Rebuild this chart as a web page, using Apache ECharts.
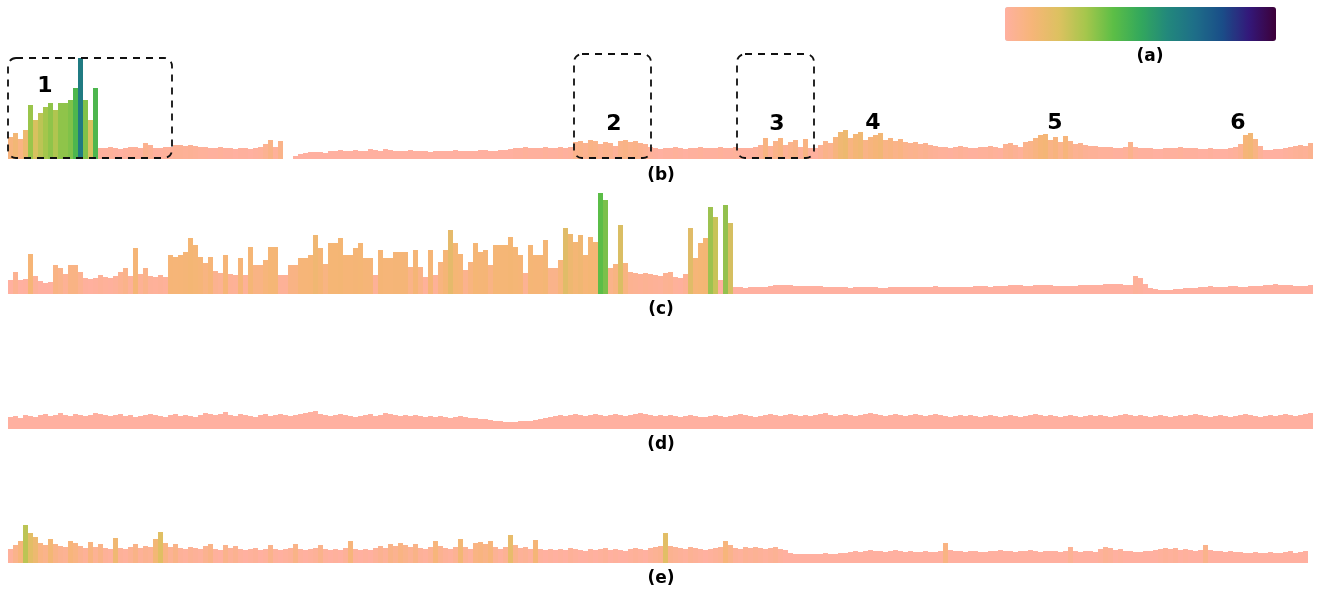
<!DOCTYPE html>
<html>
<head>
<meta charset="utf-8">
<title>Strips</title>
<script src="https://cdn.jsdelivr.net/npm/echarts@6.0.0/dist/echarts.min.js"></script>
<style>
  html, body { margin: 0; padding: 0; background: #fff; }
  #chart { width: 1318px; height: 591px; }
</style>
</head>
<body>
<div id="chart"></div>
<script>
// heights, one value per column
const bValues = [
  22, 26, 20, 29, 54, 39, 46, 52, 56, 49, 56, 56, 59, 71, 101, 59, 39, 71, 11,
  11, 12, 11, 10, 11, 12, 12, 11, 16, 14, 11, 11, 12, 12, 14, 14, 13, 14,
  13, 12, 12, 11, 11, 12, 11, 11, 10, 11, 11, 10, 11, 12, 15, 19, 12, 18,
  0, 0, 3, 5, 6, 7, 7, 7, 6,
  8, 8, 9, 8, 8, 9, 8, 8, 10, 9, 8, 10, 9, 8, 8, 8, 9, 8, 8, 8,
  7, 8, 8, 8, 8, 9, 8, 8, 8, 8, 9, 9, 8, 8, 9, 9, 10,
  11, 11, 12, 11, 11, 11, 12, 11, 11, 12, 11, 12,
  17, 18, 16, 19, 18, 15, 17, 16, 13, 18, 19, 17, 18, 16, 15, 12,
  11, 10, 11, 11, 12, 11, 10, 11, 11, 12, 11, 11, 11, 12, 11, 11, 12,
  11, 11, 11, 12, 14, 21, 13, 18, 21, 14, 17, 19, 12, 20, 11, 11,
  14, 18, 16, 22, 27, 29, 21, 25, 27, 19, 22, 24, 26, 19, 21, 18, 20, 17, 16, 17, 15, 16, 14, 13,
  12, 12, 11, 12, 13, 12, 11, 11, 12, 12, 13, 12, 11, 15, 16, 14, 12, 17, 18, 21,
  24, 25, 19, 22, 17, 23, 18, 15, 16, 14,
  13, 13, 12, 12, 12, 11, 11, 12, 17, 12,
  11, 11, 11, 10, 10, 11, 11, 11, 12, 11, 11, 11, 10, 10, 11, 10, 10, 10, 11, 12,
  15, 24, 26, 20, 13, 9, 9, 10, 10, 11, 12, 13, 14, 13, 16
];

const cValues = [
  14, 22, 14, 15, 40, 18, 13, 11, 12, 29, 26, 20, 29, 29, 22, 16, 15, 16, 19, 17, 16, 18, 22, 26, 18,
  46, 20, 26, 18, 17, 19, 17, 39, 37, 39, 42, 56, 49, 37, 31, 37, 23, 21, 39, 20, 19, 36, 19, 47, 29,
  29, 34, 47, 47, 19, 19, 29, 29, 36, 36, 39, 59, 46, 30, 51, 51, 56, 39, 39, 46, 51, 36, 36, 19, 44,
  36, 36, 42, 42, 42, 27, 44, 27, 17, 44, 19, 32, 44, 64, 51, 40, 24, 32, 51, 42, 44, 29, 49, 49, 49,
  57, 47, 39, 21, 49, 39, 39, 54, 26, 26, 34, 66, 60, 52, 59, 39, 57, 52, 101, 94, 26, 30, 69, 31, 22,
  21, 20, 21, 20, 19, 18, 21, 22, 17, 16,
  20, 66, 36, 51, 56, 87, 77, 14, 89, 71,
  7, 7, 6, 7, 7, 7, 7,
  8, 9, 9, 9, 9, 8, 8, 8, 8, 8, 8, 7,
  7, 7, 7, 7, 6, 7, 7, 7, 7, 7, 6, 6, 7, 7, 7, 7, 7, 7, 7, 7, 7, 8, 7, 7, 7, 7, 7, 7, 7, 8, 8, 8,
  7, 8, 8, 8, 9, 9, 9, 8, 8, 9, 9, 9, 9, 8, 8, 8, 8, 8, 9, 9, 9, 9, 9, 10, 10, 10, 10, 9, 9,
  18, 16, 10, 6, 5, 4, 4, 4, 5,
  5, 6, 6, 6, 7, 7, 8, 7, 7, 7, 8, 8, 7, 7, 8, 8, 8, 9, 9, 10, 9, 9, 9, 8, 8, 8, 9
];

const dValues = [
  12, 13, 11, 14, 13, 12, 14, 15, 13, 14, 16, 14, 13, 15, 14, 13, 14, 16, 15, 14, 13,
  14, 15, 13, 14, 12, 13, 14, 15, 14, 13, 12, 14, 15, 13, 14, 13, 12, 14, 16, 15,
  14, 15, 17, 14, 13, 15, 14, 13, 12, 14, 15, 13, 14, 15, 14, 13, 14, 15, 16, 17,
  18, 15, 14, 13, 14, 15, 14, 13, 12, 13, 14, 15, 13, 14, 16, 15, 14, 13, 14, 13,
  14, 13, 12, 13, 12, 13, 12, 11, 12, 13, 12, 11, 11, 10, 10,
  9, 8, 8, 7, 7, 7, 8, 8, 8, 9, 10, 11, 12,
  13, 14, 13, 14, 15, 14, 13, 14, 15, 14, 13, 14, 15, 14, 13, 14, 15, 16, 15, 14, 13, 14,
  13, 14, 13, 12, 13, 14, 13, 12, 12, 13, 14, 13, 12, 13, 14, 15, 14, 13, 12, 13,
  14, 15, 14, 13, 14, 15, 14, 13, 14, 13,
  14, 15, 16, 14, 13, 14, 15, 14, 13, 14, 15, 16, 15, 14, 13, 14, 15, 14, 13, 14,
  15, 14, 13, 14, 15, 14, 13, 12, 13, 14,
  13, 14, 13, 12, 13, 14, 13, 12, 13, 14, 13, 12, 13, 14, 15, 14, 13, 14, 13, 12,
  13, 14, 13, 12, 13, 14, 13, 14, 13, 12,
  13, 14, 15, 14, 13, 14, 13, 12, 13, 14, 13, 12, 13, 14, 13, 14, 15, 14, 13, 12,
  13, 14, 13, 12, 13, 14, 15, 14, 13, 12, 13, 14, 13, 14, 15, 14, 13, 14, 15, 16
];

const eValues = [
  14, 18, 22, 38, 30, 26, 20, 18, 24, 19, 17, 16, 22, 20, 17, 15, 21, 16, 19, 15, 14,
  25, 15, 14, 16, 19, 15, 17, 16, 24, 31, 20, 16, 19, 15, 14, 16, 15, 14, 17, 19,
  14, 13, 18, 15, 17, 14, 13, 14, 15, 13, 14, 18, 14, 13, 14, 15, 19, 14, 13, 14,
  15, 18, 14, 13, 14, 13, 15, 22, 14, 13, 14, 13, 15, 17, 15, 19, 17, 20, 18, 16,
  19, 15, 14, 16, 22, 17, 15, 14, 16, 24, 16, 14, 20, 21, 19, 22, 16, 14, 16, 28,
  18, 15, 16, 14, 23, 14, 13, 14, 13,
  14, 13, 15, 14, 13, 12, 14, 13, 14, 15, 13, 14, 13, 12, 14, 15, 14, 13, 15, 16, 17,
  30, 17, 16, 15, 14, 16, 15, 14, 13, 14, 15, 16, 22, 18,
  15, 14, 16, 15, 16, 15, 14, 15, 16, 14, 13,
  10, 9, 9, 9, 9, 9, 9, 10, 9, 9, 10, 10, 11, 12, 11, 12, 13, 12,
  12, 11, 12, 13, 12, 11, 12, 11, 11, 12, 11, 11, 12, 20,
  13, 12, 12, 11, 12, 12, 11, 11, 12, 12, 13, 12, 12, 11, 12, 12, 13, 12, 11, 12, 12, 12, 11, 12,
  16, 12, 11, 12, 12, 11, 14, 16, 15, 13, 14, 12,
  12, 11, 11, 12, 12, 13, 14, 15, 14, 15, 13, 14, 13, 12, 13, 18, 13,
  12, 12, 11, 12, 11, 11, 10, 10, 11, 10, 10, 11, 10, 10, 11, 12, 10, 11, 12
];

const panelLabels = ['(a)', '(b)', '(c)', '(d)', '(e)'];
const regionLabels = ['1', '2', '3', '4', '5', '6'];

// colour ramp of the bar (a)
const ramp = ['#ffb0a0', '#f6b578', '#dcc160', '#a4c64c', '#5cbe46', '#33a85c',
  '#22887c', '#1e6e88', '#1a4e88', '#33187a', '#3d0038'];
// strip (c) keeps its middle bars orange for longer
const rampC = ['#ffb0a0', '#f6b578', '#f4b674', '#c4c456', '#5cbe46', '#2a9a6a',
  '#22887c', '#1e6e88', '#1a4e88', '#33187a', '#3d0038'];

const strips = [
  { data: bValues, top: 58, height: 101, width: 1305, vmin: 10, vmax: 150, colors: ramp },
  { data: cValues, top: 190, height: 104, width: 1305, vmin: 14, vmax: 230, colors: rampC },
  { data: dValues, top: 389, height: 40, width: 1305, vmin: 30, vmax: 300, colors: ramp },
  { data: eValues, top: 513, height: 50, width: 1300, vmin: 13, vmax: 110, colors: ramp }
];

const chart = echarts.init(document.getElementById('chart'));

const grid = [], xAxis = [], yAxis = [], series = [], visualMap = [];
strips.forEach(function (s, i) {
  grid.push({ left: 8, top: s.top, width: s.width, height: s.height });
  xAxis.push({ type: 'category', gridIndex: i, show: false,
    data: s.data.map(function (v, k) { return k; }) });
  yAxis.push({ type: 'value', gridIndex: i, show: false, min: 0, max: s.height });
  series.push({ type: 'bar', xAxisIndex: i, yAxisIndex: i, data: s.data,
    barCategoryGap: '0%', barGap: '0%', silent: true, animation: false });
  visualMap.push({
    type: 'continuous', seriesIndex: i, dimension: 1,
    min: s.vmin, max: s.vmax, inRange: { color: s.colors },
    show: i === 0, calculable: false, hoverLink: false,
    orient: 'horizontal', left: 1005, top: 7, padding: 0,
    itemWidth: 34, itemHeight: 271
  });
});

const labelFont = 'bold 17px "DejaVu Sans", sans-serif';
const numFont = 'bold 22px "DejaVu Sans", sans-serif';
const labelPos = [[1150, 57], [661, 176], [661, 310], [661, 445], [661, 579]];
const numPos = [[45, 86], [614, 124], [777, 124], [873, 123], [1055, 123], [1238, 123]];

const graphic = [];
panelLabels.forEach(function (t, i) {
  graphic.push({ type: 'text', x: labelPos[i][0], y: labelPos[i][1], z: 20,
    style: { text: t, font: labelFont, fill: '#000', align: 'center', verticalAlign: 'middle' } });
});
regionLabels.forEach(function (t, i) {
  graphic.push({ type: 'text', x: numPos[i][0], y: numPos[i][1], z: 20,
    style: { text: t, font: numFont, fill: '#000', align: 'center', verticalAlign: 'middle' } });
});
// dashed boxes round the regions 1, 2, 3
[[8, 58, 164, 100], [574, 54, 77, 104], [737, 54, 77, 104]].forEach(function (b) {
  graphic.push({ type: 'rect', z: 20,
    shape: { x: b[0], y: b[1], width: b[2], height: b[3], r: 8 },
    style: { fill: 'none', stroke: '#111', lineWidth: 1.8, lineDash: [7, 6] } });
});

chart.setOption({
  animation: false,
  grid: grid,
  xAxis: xAxis,
  yAxis: yAxis,
  visualMap: visualMap,
  series: series,
  graphic: graphic
});
</script>
</body>
</html>
